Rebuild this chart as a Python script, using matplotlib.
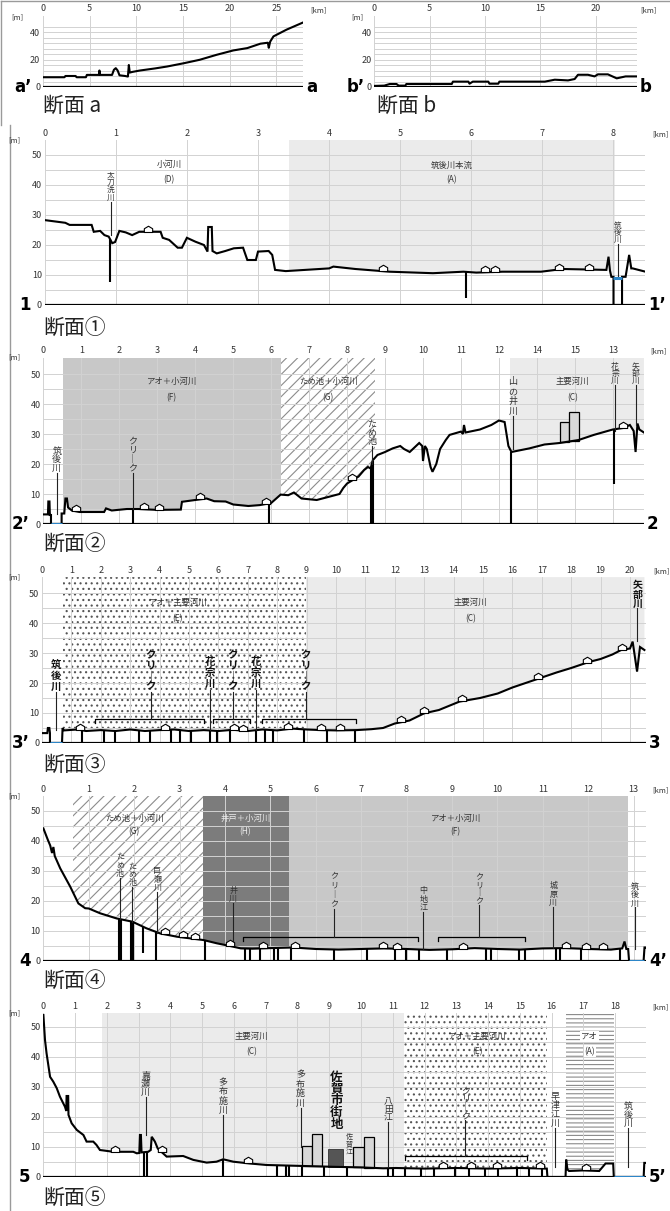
import numpy as np
import matplotlib
matplotlib.use("Agg")
import matplotlib.pyplot as plt
from matplotlib.patches import Rectangle
from matplotlib.path import Path
from matplotlib.lines import Line2D

plt.rcParams['font.family'] = ['Noto Sans CJK JP', 'DejaVu Sans']
plt.rcParams['hatch.linewidth'] = 0.8

# ======================= DATA =======================
# --- section a ---
a_km = [0, 2.3, 2.4, 3.5, 3.6, 4.6, 4.7, 6.0, 6.05, 6.1, 7.4, 7.6, 7.8, 8.0, 8.2, 8.8, 9.1, 9.2, 9.3, 9.6,
        10.4, 12.0, 13.3, 15.1, 16.8, 18.6, 20.4, 21.9, 23.3, 24.1, 24.2, 24.35, 24.7, 26.1, 27.9]
a_m = [7.1, 7.1, 8.0, 8.0, 7.1, 7.1, 8.8, 8.8, 12.0, 8.8, 8.8, 12.5, 13.7, 12.0, 8.5, 8.0, 7.6, 16.0, 10.5, 11.0,
       12.0, 13.5, 14.9, 17.3, 19.8, 23.4, 26.6, 28.3, 31.5, 32.2, 28.5, 33.0, 36.8, 41.7, 47.0]
# --- section b ---
b_km = [0, 0.9, 1.4, 2.0, 2.2, 2.8, 2.9, 7.0, 7.1, 8.5, 8.6, 8.9, 10.3, 10.4, 11.2, 11.3, 15.4, 16.3, 17.5,
        18.1, 18.4, 19.3, 19.5, 19.9, 20.2, 21.1, 21.9, 22.7, 23.7]
b_m = [0.8, 1.0, 2.2, 2.2, 1.0, 1.0, 2.2, 2.2, 3.9, 3.9, 2.4, 3.9, 3.9, 2.4, 2.4, 3.9, 3.9, 5.3, 4.8,
       5.8, 8.9, 8.9, 8.5, 7.7, 9.2, 9.2, 6.3, 7.7, 7.7]
ab_xticks = [0, 5, 10, 15, 20, 25]

# --- section 1 ---
p1_km = [0, 0.29, 0.35, 0.66, 0.69, 0.78, 0.84, 0.90, 0.95, 0.99, 1.05, 1.14, 1.23, 1.33, 1.63, 1.66, 1.75, 1.87,
         1.93, 2.00, 2.12, 2.24, 2.29, 2.30, 2.35, 2.36, 2.42, 2.54, 2.66, 2.79, 2.85, 2.97, 3.00, 3.15, 3.20,
         3.24, 3.39, 4.00, 4.06, 4.37, 4.85, 5.46, 5.89, 6.07, 6.44, 6.98, 7.29, 7.90, 7.93, 7.95, 7.97, 8.00,
         8.00, 8.12, 8.12, 8.17, 8.22, 8.25, 8.27, 8.45]
p1_m = [28.3, 27.4, 26.7, 26.7, 24.4, 24.7, 23.3, 22.8, 20.6, 21.0, 24.7, 24.2, 23.3, 24.4, 24.4, 22.4, 21.7, 19.1,
        19.1, 22.4, 21.1, 20.0, 17.8, 26.0, 26.0, 18.0, 17.2, 18.0, 18.9, 19.1, 15.0, 15.0, 17.8, 18.0, 16.7,
        11.7, 11.3, 12.2, 12.8, 12.0, 11.1, 10.6, 11.1, 10.8, 11.1, 11.1, 12.0, 11.7, 16.1, 11.5, 9.4, 9.4,
        0, 0, 9.4, 9.4, 16.7, 12.2, 12.2, 11.1]
p1_dips = [0.92, 5.93]
p1_dip_bottom = [7.8, 2.2]
p1_houses = [1.45, 4.76, 6.19, 6.34, 7.23, 7.65]
p1_reg_start = [3.44]
p1_reg_end = [8.02]
p1_reg_kind = ['light']
p1_rlab_names = ['小河川', '筑後川本流']
p1_rlab_codes = ['(D)', '(A)']
p1_rlab_km = [1.75, 5.72]
p1_lab_names = ['太刀洗川', '筑後川']
p1_lab_km = [0.93, 8.06]
p1_lab_top = [44.5, 27.5]
p1_lab_bot = [34.5, 20.5]
p1_lab_line = [23.5, 9.0]
p1_water = [(8.0, 8.12, 9.0)]

# --- section 2 ---
p2_km = [0, 0.12, 0.13, 0.16, 0.17, 0.2, 0.2, 0.48, 0.48, 0.55, 0.58, 0.62, 0.65, 0.75, 0.95, 1.6, 1.65, 1.8,
         2.2, 2.5, 3.0, 3.62, 3.65, 4.0, 4.3, 4.5, 4.8, 5.0, 5.4, 5.7, 6.0, 6.25, 6.45, 6.6, 6.8, 7.2, 7.5, 7.8,
         7.9, 8.0, 8.3, 8.45, 8.55, 8.62, 8.68, 8.8, 9.0, 9.2, 9.4, 9.5, 9.65, 9.9, 9.98, 10.0, 10.05, 10.1,
         10.2, 10.25, 10.35, 10.45, 10.6, 10.7, 11.0, 11.05, 11.08, 11.12, 11.5, 11.8, 12.0, 12.15, 12.25,
         12.33, 12.8, 13.2, 13.6, 14.1, 14.5, 15.0, 15.27, 15.45, 15.55, 15.6, 15.65, 15.7, 15.82]
p2_m = [3.2, 3.2, 7.5, 7.5, 3.0, 3.0, 0, 0, 3.5, 3.5, 8.5, 8.5, 5.5, 4.5, 4.0, 4.0, 5.2, 4.5,
        5.0, 5.0, 4.7, 4.8, 7.4, 8.0, 8.5, 7.6, 7.5, 6.5, 6.0, 6.3, 7.0, 9.8, 9.6, 10.5, 8.5, 8.0, 9.0, 10.0,
        12.0, 13.5, 15.8, 18.0, 19.0, 18.5, 21.3, 23.0, 24.0, 25.2, 26.0, 25.0, 24.0, 27.0, 26.0, 21.0, 26.0, 25.0,
        19.0, 17.4, 20.0, 25.0, 28.0, 29.7, 30.8, 30.0, 33.0, 30.5, 31.5, 33.0, 34.5, 34.0, 26.0,
        24.0, 25.2, 26.5, 27.0, 28.0, 29.7, 31.5, 32.0, 33.0, 31.0, 24.0, 33.5, 31.5, 30.5]
p2_xtick_labels = ['0', '1', '2', '3', '4', '5', '6', '7', '8', '9', '10', '11', '12', '14', '15', '13']
p2_dips = [2.35, 5.95, 8.63, 8.67, 12.33, 15.02]
p2_dip_bottom = [0, 0, 0, 0, 0, 13.5]
p2_houses = [0.87, 2.64, 3.04, 4.12, 5.86, 8.14, 15.27]
p2_bld_left = [13.6, 13.85]
p2_bld_right = [13.85, 14.1]
p2_bld_top = [34.0, 37.5]
p2_reg_start = [0.52, 6.27, 12.3]
p2_reg_end = [6.27, 8.74, 15.82]
p2_reg_kind = ['mid', 'hatch', 'light']
p2_rlab_names = ['アオ＋小河川', 'ため池＋小河川', '主要河川']
p2_rlab_codes = ['(F)', '(G)', '(C)']
p2_rlab_km = [3.38, 7.5, 13.94]
p2_lab_names = ['筑後川', 'クリーク', 'ため池', '山の井川', '花宗川', '矢部川']
p2_lab_km = [0.35, 2.35, 8.65, 12.37, 15.06, 15.6]
p2_lab_top = [25.8, 29.0, 34.5, 49.0, 53.5, 53.5]
p2_lab_bot = [17.0, 17.0, 26.0, 36.0, 46.5, 46.5]
p2_lab_line = [3.2, 5.0, 20.0, 25.0, 31.0, 33.0]
p2_water = [(0.2, 0.48, 0.0)]

# --- section 3 ---
p3_km = [0, 0.18, 0.2, 0.25, 0.27, 0.27, 0.68, 0.7, 0.75, 1.2, 1.5, 2.0, 2.5, 3.0, 3.5, 4.0, 4.5, 5.0, 5.5, 6.0,
         6.5, 7.0, 7.5, 8.0, 8.5, 9.0, 9.5, 10.0, 10.7, 11.2, 11.6, 12.0, 12.5, 13.0, 13.5, 14.2, 14.9, 15.5,
         16.0, 16.9, 17.5, 18.0, 18.6, 19.0, 19.4, 19.7, 20.0, 20.09, 20.24, 20.34, 20.49]
p3_m = [3.3, 3.3, 5.0, 5.0, 3.3, 0, 0, 5.0, 4.2, 4.5, 4.0, 4.3, 4.0, 4.5, 4.0, 4.3, 4.5, 4.0, 4.3, 4.0,
        4.4, 4.0, 4.5, 4.2, 4.8, 4.5, 4.3, 4.2, 4.3, 4.6, 5.0, 6.5, 7.5, 9.9, 11.0, 13.8, 15.0, 16.5,
        18.5, 21.5, 23.5, 25.0, 27.0, 28.0, 29.5, 31.0, 31.5, 33.8, 23.8, 32.0, 31.0]
p3_dips = [1.37, 2.11, 2.48, 3.29, 3.66, 4.4, 4.69, 5.06, 5.72, 5.94, 6.39, 7.27, 7.57, 7.86, 8.9, 9.7, 10.66]
p3_dip_bottom = [0] * len(p3_dips)
p3_houses = [1.3, 4.17, 6.53, 6.83, 8.38, 9.48, 10.15, 12.2, 13.0, 14.28, 16.86, 18.55, 19.73]
p3_br_start = [1.81, 5.8, 7.49]
p3_br_end = [5.5, 7.09, 10.69]
p3_br_level = [8.0, 8.0, 8.0]
p3_reg_start = [0.71, 8.97]
p3_reg_end = [8.97, 20.55]
p3_reg_kind = ['dots', 'light']
p3_rlab_names = ['アオ＋主要河川', '主要河川']
p3_rlab_codes = ['(E)', '(C)']
p3_rlab_km = [4.62, 14.57]
p3_lab_names = ['筑後川', 'クリーク', '花宗川', 'クリーク', '花宗川', 'クリーク', '矢部川']
p3_lab_km = [0.49, 3.7, 5.72, 6.49, 7.27, 8.97, 20.25]
p3_lab_top = [28.0, 31.0, 29.0, 31.0, 29.0, 31.0, 54.0]
p3_lab_bot = [17.0, 17.0, 17.7, 17.0, 17.7, 17.0, 45.0]
p3_lab_line = [4.5, 8.0, 4.3, 8.0, 4.3, 8.0, 34.0]
p3_water = [(0.27, 0.68, 0.0)]

# --- section 4 ---
p4_km = [0, 0.1, 0.15, 0.19, 0.22, 0.25, 0.37, 0.59, 0.77, 0.92, 1.0, 1.25, 1.61, 1.96, 2.27, 2.57, 2.94, 3.52,
         3.82, 4.11, 4.35, 4.6, 5.0, 5.5, 6.0, 6.5, 7.0, 7.5, 8.0, 8.5, 9.0, 9.5, 10.0, 10.5, 11.0, 11.5, 12.0,
         12.5, 12.75, 12.8, 12.84, 12.88, 12.9, 13.22, 13.24, 13.27]
p4_m = [44.2, 40.3, 38.5, 36.0, 38.0, 35.0, 30.9, 24.8, 19.2, 17.6, 17.5, 15.9, 14.2, 13.1, 10.9, 9.2, 8.1, 7.0,
        5.9, 5.0, 4.2, 4.1, 4.3, 4.5, 4.0, 3.8, 4.0, 4.2, 4.0, 3.7, 3.9, 4.3, 4.0, 3.8, 4.2, 4.3, 4.0,
        3.8, 4.2, 6.5, 4.0, 4.0, 0, 0, 4.5, 4.5]
p4_dips = [1.66, 1.72, 1.93, 1.98, 2.2, 2.49, 3.55, 4.45, 4.54, 4.78, 5.07, 5.16, 5.45, 6.4, 7.12, 7.74, 7.98,
           8.27, 8.89, 9.75, 9.85, 10.47, 10.61, 11.28, 11.38, 11.85, 12.71]
p4_dip_bottom = [0, 0, 0, 0, 2.7, 0, 0, 0, 0, 0, 0, 0, 0, 0, 0, 0, 0, 0, 0, 0, 0, 0, 0, 0, 0, 0, 0]
p4_houses = [2.67, 3.08, 3.34, 4.11, 4.83, 5.54, 7.49, 7.78, 9.25, 11.52, 11.95, 12.33]
p4_br_start = [4.4, 8.7]
p4_br_end = [8.25, 10.6]
p4_br_level = [8.0, 8.0]
p4_reg_start = [0.66, 3.52, 5.41]
p4_reg_end = [3.52, 5.41, 12.87]
p4_reg_kind = ['hatch', 'dark', 'mid']
p4_rlab_names = ['ため池＋小河川', '井戸＋小河川', 'アオ＋小河川']
p4_rlab_codes = ['(G)', '(H)', '(F)']
p4_rlab_km = [2.0, 4.45, 9.08]
p4_lab_names = ['ため池', 'ため池', '巨瀬川', '井川', 'クリーク', '中地江', 'クリーク', '城原川', '筑後川']
p4_lab_km = [1.69, 1.96, 2.51, 4.18, 6.4, 8.37, 9.6, 11.23, 13.02]
p4_lab_top = [36.4, 33.0, 31.4, 25.0, 30.0, 24.8, 29.3, 26.5, 26.0]
p4_lab_bot = [27.6, 24.8, 23.1, 19.5, 17.5, 16.4, 18.7, 18.0, 18.0]
p4_lab_line = [14.0, 13.0, 9.5, 6.0, 8.0, 4.0, 8.0, 4.2, 4.0]
p4_water = [(12.9, 13.22, 0.0)]

# --- section 5 ---
p5_km = [0, 0.05, 0.1, 0.21, 0.31, 0.42, 0.52, 0.68, 0.72, 0.73, 0.78, 0.79, 0.89, 1.05, 1.26, 1.36, 1.57, 1.67,
         1.78, 2.2, 2.83, 2.94, 3.02, 3.04, 3.07, 3.09, 3.3, 3.38, 3.41, 3.45, 3.51, 3.6, 3.88, 4.4, 4.72, 5.14,
         5.45, 5.66, 5.98, 6.5, 7.03, 8.08, 9.13, 10.0, 10.7, 11.1, 12.0, 13.0, 14.0, 15.0, 15.85, 15.87, 16.44,
         16.46, 16.5, 16.55, 17.0, 17.5, 17.7, 17.94, 17.96, 18.9, 18.92, 18.97]
p5_m = [54, 45.7, 41.2, 33.4, 31.8, 29.6, 26.8, 23.4, 22, 27, 27, 20.7, 17.9, 15.7, 14, 11.8, 11.8, 10.7,
        9, 8.4, 8.4, 7.9, 8.0, 14, 14, 8.2, 8.4, 9.0, 13.4, 12.8, 11.8, 9.5, 6.8, 7.0, 5.7, 4.8,
        5.1, 5.9, 5.1, 4.5, 4.0, 3.7, 3.4, 3.2, 2.9, 3.0, 2.8, 3.0, 2.8, 3.0, 2.8, 0, 0,
        5.8, 2.5, 2.0, 2.2, 2.0, 4.5, 4.5, 0, 0, 4.7, 4.7]
p5_dips = [3.17, 3.25, 5.66, 7.37, 7.65, 7.72, 8.13, 8.85, 9.55, 10.86, 11.0, 11.4, 11.9, 12.3, 12.95, 13.4,
           13.9, 14.3, 14.9, 15.3, 15.7]
p5_dip_bottom = [0] * len(p5_dips)
p5_houses = [2.25, 3.72, 6.45, 12.57, 13.46, 14.28, 15.64, 17.08]
p5_bld_left = [8.13, 8.45, 9.75, 10.1]
p5_bld_right = [8.45, 8.76, 10.1, 10.42]
p5_bld_top = [10.3, 14.2, 9.9, 13.4]
p5_city_left = [8.96]
p5_city_right = [9.43]
p5_city_top = [9.3]
p5_br_start = [11.37]
p5_br_end = [15.23]
p5_br_level = [7.0]
p5_reg_start = [1.85, 11.35, 16.46]
p5_reg_end = [11.35, 15.87, 17.96]
p5_reg_kind = ['light', 'dots', 'hlines']
p5_rlab_names = ['主要河川', 'アオ＋主要河川', 'アオ']
p5_rlab_codes = ['(C)', '(E)', '(A)']
p5_rlab_km = [6.56, 13.66, 17.2]
p5_lab_names = ['嘉瀬川', '多布施川', '多布施川', '八田江', 'クリーク', '早津江川', '筑後川']
p5_lab_km = [3.22, 5.66, 8.1, 10.86, 13.28, 16.12, 18.42]
p5_lab_top = [35.0, 33.0, 35.7, 26.5, 30.0, 28.5, 25.0]
p5_lab_bot = [26.8, 20.7, 23.0, 18.5, 19.0, 16.3, 16.3]
p5_lab_line = [14.0, 6.5, 10.0, 3.4, 7.0, 3.5, 3.5]
p5_water = [(17.96, 18.9, 0.0)]
p5_city_name = '佐賀市街地'
p5_city_km = 9.23
p5_city_span = (35.0, 15.7)
p5_small_name = '佐賀江'
p5_small_km = 9.62
p5_small_span = (14.5, 7.3)

# ======================= STYLE / LAYOUT =======================
W, H = 670, 1211
fig = plt.figure(figsize=(W / 100, H / 100), dpi=100)
fig.patch.set_facecolor('white')
GRID = '#d2d2d2'
MPX = 3.0  # pixels per metre in the main sections

KINDS = {
    'light': dict(facecolor='#ebebeb', edgecolor='none'),
    'mid': dict(facecolor='#c8c8c8', edgecolor='none'),
    'dark': dict(facecolor='#7c7c7c', edgecolor='none'),
    'hatch': dict(facecolor='white', edgecolor='#8c8c8c', hatch='///', linewidth=0),
    'dots': dict(facecolor='white', edgecolor='#555555', hatch='...', linewidth=0),
    'hlines': dict(facecolor='white', edgecolor='#8a8a8a', hatch='----', linewidth=0),
}

house_path = Path([(-1, 0), (1, 0), (1, 0.9), (0, 1.5), (-1, 0.9), (-1, 0)],
                  [Path.MOVETO, Path.LINETO, Path.LINETO, Path.LINETO, Path.LINETO, Path.CLOSEPOLY])


def px(x):
    return x / W


def py(y):
    return 1 - y / H


def make_axes(left, kmpx, xmax, y0, ytop, mpx, xticks, xlabels, yticks, ylabels, ygrid, xpad=1.5):
    right = left + xmax * kmpx
    top_px = y0 - ytop * mpx
    ax = fig.add_axes([px(left), py(y0), (right - left) / W, (y0 - top_px) / H])
    ax.set_xlim(0, xmax)
    ax.set_ylim(0, ytop)
    ax.patch.set_alpha(0)
    for s in ax.spines.values():
        s.set_visible(False)
    ax.xaxis.tick_top()
    ax.set_xticks(xticks, xlabels)
    ax.set_yticks(yticks, ylabels)
    ax.tick_params(axis='both', length=0, labelsize=6.5, colors='#333333')
    ax.tick_params(axis='x', pad=xpad)
    ax.tick_params(axis='y', pad=2)
    for g in ygrid:
        ax.axhline(g, color=GRID, lw=0.7, zorder=2)
    for t in xticks:
        ax.axvline(t, color=GRID, lw=0.7, zorder=2)
    ax.axhline(0, color='black', lw=2.3, zorder=9)
    return ax, right, top_px


def vlabel(ax, name, km, top, bot, line_bot, fs, color='#333333', weight='normal'):
    chars = ['｜' if c == 'ー' else c for c in name]
    step = (top - bot) / len(chars)
    fs_eff = min(fs, step * MPX / 1.25)
    for i, c in enumerate(chars):
        ax.text(km, top - step * (i + 0.5), c, ha='center', va='center', fontsize=fs_eff,
                color=color, fontweight=weight, zorder=10)
    if line_bot is not None:
        ax.plot([km, km], [bot, line_bot], color='#222222', lw=0.8, zorder=7)


def section(ax, km, m, ytop, dips=(), dip_bottom=(), houses=(), regs=(), rlabs=(), labs=(),
            brackets=(), blds=(), water=(), lab_fs=6.5, lab_color='#333333', lab_weight='normal',
            rlab_y=(47, 42), house_ms=9):
    km = np.asarray(km, float)
    m = np.asarray(m, float)
    for a, b, kind in regs:
        poly = ax.fill_between(km, m, ytop, zorder=1, **KINDS[kind])
        poly.set_clip_path(Rectangle((a, 0), b - a, ytop, transform=ax.transData))
    for name, code, k, kind in rlabs:
        col = '#eeeeee' if kind == 'dark' else '#333333'
        bb = dict(facecolor='white', edgecolor='none', pad=0.6) if kind == 'hlines' else None
        ax.text(k, rlab_y[0], name, ha='center', va='center', fontsize=6, color=col, zorder=10, bbox=bb)
        ax.text(k, rlab_y[1], code, ha='center', va='center', fontsize=6, color=col, zorder=10, bbox=bb)
    for l, r, t in blds:
        base = np.interp((l + r) / 2, km, m)
        ax.add_patch(Rectangle((l, base), r - l, t - base, facecolor='#d8d8d8', edgecolor='black',
                               lw=0.9, zorder=4))
    ax.plot(km, m, color='black', lw=1.5, zorder=6, solid_joinstyle='miter')
    if len(dips):
        d = np.asarray(dips, float)
        ax.vlines(d, dip_bottom, np.interp(d, km, m), color='black', lw=1.5, zorder=6)
    if len(houses):
        h = np.asarray(houses, float)
        ax.plot(h, np.interp(h, km, m), linestyle='none', marker=house_path, markersize=house_ms,
                markerfacecolor='white', markeredgecolor='black', markeredgewidth=0.8, zorder=8)
    for a, b, lvl in brackets:
        ax.plot([a, a, b, b], [lvl - 1.3, lvl, lvl, lvl - 1.3], color='black', lw=0.9, zorder=7)
    for a, b, lvl in water:
        ax.plot([a, b], [lvl, lvl], color='#2d86c8', lw=2.2, zorder=10, solid_capstyle='butt')
    for name, k, top, bot, lb in labs:
        vlabel(ax, name, k, top, bot, lb, lab_fs, lab_color, lab_weight)


def side_texts(top_px, right, y0, left_lab, right_lab, left_x, title, title_y, title_x=43, mx=14,
               kmdx=15, tick_y=None):
    fig.text(px(mx), py(top_px), '[m]', fontsize=5.5, ha='center', va='center', color='#333333')
    fig.text(px(right + kmdx), py(tick_y if tick_y else top_px - 6), '[km]', fontsize=5.5,
             ha='center', va='center', color='#333333')
    fig.text(px(left_x), py(y0), left_lab, fontsize=12, fontweight='bold', family='DejaVu Sans',
             ha='left', va='center')
    fig.text(px(right + 3), py(y0), right_lab, fontsize=12, fontweight='bold', family='DejaVu Sans',
             ha='left', va='center')
    fig.text(px(title_x), py(title_y), title, fontsize=15, ha='left', va='center', color='#222222')


def zipl(*cols):
    return list(zip(*cols))


# ======================= TOP PANELS a / b =======================
ab_ygrid = list(range(4, 48, 4))
ax_a, r_a, t_a = make_axes(43, 9.33, 27.9, 87, 52, 1.375, ab_xticks, [str(v) for v in ab_xticks],
                           [0, 20, 40], ['0', '20', '40'], ab_ygrid)
ax_a.plot(a_km, a_m, color='black', lw=1.5, zorder=6)
side_texts(t_a + 2, r_a, 87, 'a’', 'a', 14, '断面 a', 106, title_x=43, mx=17, kmdx=15, tick_y=t_a - 5)

b_xt = ab_xticks[:5]
ax_b, r_b, t_b = make_axes(374.3, 11.07, 23.7, 87, 52, 1.375, b_xt, [str(v) for v in b_xt],
                           [0, 20, 40], ['0', '20', '40'], ab_ygrid)
ax_b.plot(b_km, b_m, color='black', lw=1.5, zorder=6)
side_texts(t_b + 2, r_b, 87, 'b’', 'b', 347, '断面 b', 106, title_x=377, mx=357, kmdx=12, tick_y=t_b - 5)

# ======================= MAIN PANELS =======================
ygrid = list(range(5, 55, 5))
yt = [0, 10, 20, 30, 40, 50]
ytl = [str(v) for v in yt]

# section 1
xt1 = list(range(0, 9))
ax1, r1, t1 = make_axes(44.7, 71.1, 8.45, 305, 55, MPX, xt1, [str(v) for v in xt1], yt, ytl, ygrid)
section(ax1, p1_km, p1_m, 55, dips=p1_dips, dip_bottom=p1_dip_bottom, houses=p1_houses,
        regs=zipl(p1_reg_start, p1_reg_end, p1_reg_kind),
        rlabs=zipl(p1_rlab_names, p1_rlab_codes, p1_rlab_km, ['light', 'light']),
        labs=zipl(p1_lab_names, p1_lab_km, p1_lab_top, p1_lab_bot, p1_lab_line),
        water=p1_water, lab_fs=5.5, rlab_y=(46.7, 41.7))
side_texts(t1, r1, 305, '1', '1’', 19, '断面①', 328)

# section 2
xt2 = list(range(0, 16))
ax2, r2, t2 = make_axes(43.4, 37.96, 15.82, 524, 55.5, MPX, xt2, p2_xtick_labels, yt, ytl, ygrid)
section(ax2, p2_km, p2_m, 55.5, dips=p2_dips, dip_bottom=p2_dip_bottom, houses=p2_houses,
        regs=zipl(p2_reg_start, p2_reg_end, p2_reg_kind),
        rlabs=zipl(p2_rlab_names, p2_rlab_codes, p2_rlab_km, p2_reg_kind),
        labs=zipl(p2_lab_names, p2_lab_km, p2_lab_top, p2_lab_bot, p2_lab_line),
        blds=zipl(p2_bld_left, p2_bld_right, p2_bld_top), water=p2_water, lab_fs=6.5,
        rlab_y=(47.4, 42.2))
side_texts(t2, r2, 524, '2’', '2', 12, '断面②', 544)

# section 3
xt3 = list(range(0, 21))
ax3, r3, t3 = make_axes(42.0, 29.4, 20.55, 743, 55.3, MPX, xt3, [str(v) for v in xt3], yt, ytl, ygrid)
section(ax3, p3_km, p3_m, 55.3, dips=p3_dips, dip_bottom=p3_dip_bottom, houses=p3_houses,
        regs=zipl(p3_reg_start, p3_reg_end, p3_reg_kind),
        rlabs=zipl(p3_rlab_names, p3_rlab_codes, p3_rlab_km, p3_reg_kind),
        labs=zipl(p3_lab_names, p3_lab_km, p3_lab_top, p3_lab_bot, p3_lab_line),
        brackets=zipl(p3_br_start, p3_br_end, p3_br_level), water=p3_water,
        lab_fs=7.5, lab_color='#111111', lab_weight='bold', rlab_y=(47, 41.5))
side_texts(t3, r3, 743, '3’', '3', 12, '断面③', 765)

# section 4
xt4 = list(range(0, 14))
ax4, r4, t4 = make_axes(43.4, 45.4, 13.27, 961, 55, MPX, xt4, [str(v) for v in xt4], yt, ytl, ygrid)
section(ax4, p4_km, p4_m, 55, dips=p4_dips, dip_bottom=p4_dip_bottom, houses=p4_houses,
        regs=zipl(p4_reg_start, p4_reg_end, p4_reg_kind),
        rlabs=zipl(p4_rlab_names, p4_rlab_codes, p4_rlab_km, p4_reg_kind),
        labs=zipl(p4_lab_names, p4_lab_km, p4_lab_top, p4_lab_bot, p4_lab_line),
        brackets=zipl(p4_br_start, p4_br_end, p4_br_level), water=p4_water,
        lab_fs=5.8, rlab_y=(47.6, 43.1))
side_texts(t4, r4, 961, '4', '4’', 19, '断面④', 981)

# section 5
xt5 = list(range(0, 19))
ax5, r5, t5 = make_axes(43.4, 31.76, 18.97, 1177, 54.7, MPX, xt5, [str(v) for v in xt5], yt, ytl, ygrid)
section(ax5, p5_km, p5_m, 54.7, dips=p5_dips, dip_bottom=p5_dip_bottom, houses=p5_houses,
        regs=zipl(p5_reg_start, p5_reg_end, p5_reg_kind),
        rlabs=zipl(p5_rlab_names, p5_rlab_codes, p5_rlab_km, p5_reg_kind),
        labs=zipl(p5_lab_names, p5_lab_km, p5_lab_top, p5_lab_bot, p5_lab_line),
        brackets=zipl(p5_br_start, p5_br_end, p5_br_level),
        blds=zipl(p5_bld_left, p5_bld_right, p5_bld_top), water=p5_water,
        lab_fs=6.5, rlab_y=(46.9, 41.9))
for l, r, t in zip(p5_city_left, p5_city_right, p5_city_top):
    base = np.interp((l + r) / 2, p5_km, p5_m)
    ax5.add_patch(Rectangle((l, base), r - l, t - base, facecolor='#555555', edgecolor='#333333',
                            lw=0.6, zorder=5))
vlabel(ax5, p5_city_name, p5_city_km, p5_city_span[0], p5_city_span[1], None, 9.0,
       color='#111111', weight='bold')
vlabel(ax5, p5_small_name, p5_small_km, p5_small_span[0], p5_small_span[1], None, 5.0)
side_texts(t5, r5, 1177, '5', '5’', 19, '断面⑤', 1198)

# frame lines of the page
fig.add_artist(Line2D([px(10), px(10)], [py(125), py(1211)], color='#9a9a9a', lw=1.0))
fig.add_artist(Line2D([px(1), px(669)], [py(1), py(1)], color='#9a9a9a', lw=1.0))
fig.add_artist(Line2D([px(1), px(1)], [py(1), py(125)], color='#9a9a9a', lw=1.0))

fig.savefig('out.png', dpi=100)
